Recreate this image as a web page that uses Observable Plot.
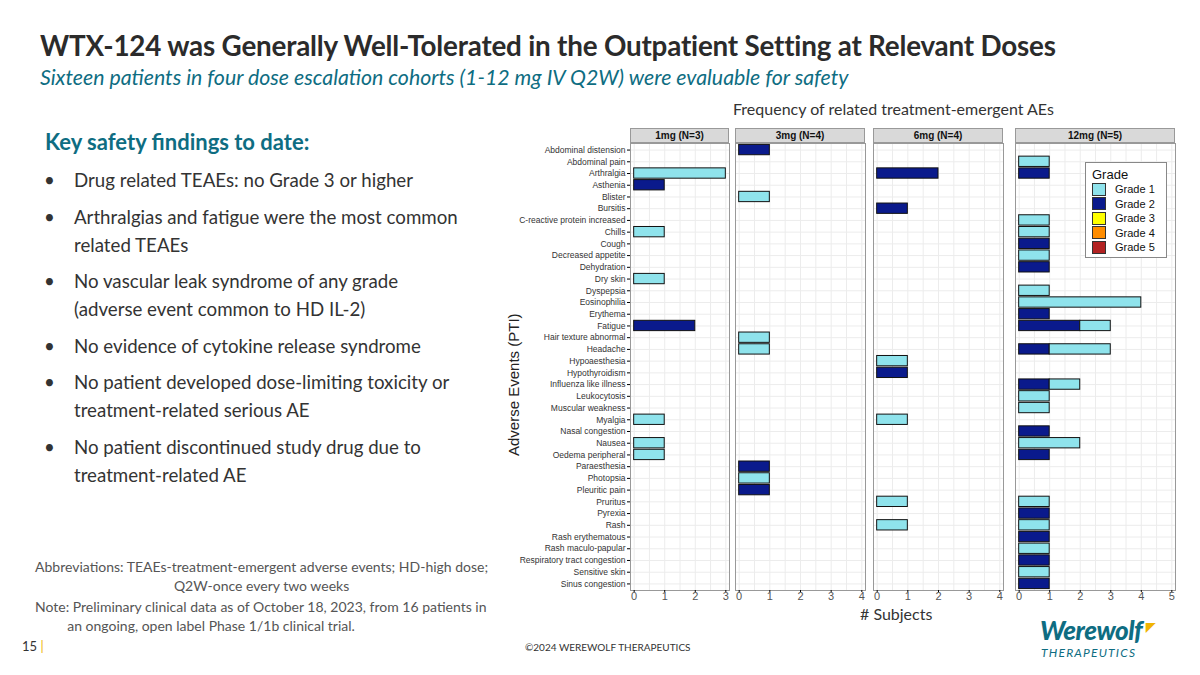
<!DOCTYPE html>
<html><head><meta charset="utf-8">
<script src="https://cdn.jsdelivr.net/npm/d3@7"></script>
<script src="https://cdn.jsdelivr.net/npm/@observablehq/plot@0.6"></script>
<style>
body{margin:0;width:1200px;height:675px;position:relative;background:#fff;font-family:Lato,"Open Sans",sans-serif;overflow:hidden}
.abs{position:absolute;white-space:nowrap}
.hdr{position:absolute;top:128px;height:15px;background:#d9d9d9;border:1px solid #999;box-sizing:border-box;font:bold 10px "Liberation Sans",Arial,sans-serif;text-align:center;line-height:13px;color:#111}
ul{margin:0;padding:0;list-style:none}
li{position:relative;padding-left:34px;font-size:18.7px;color:#333;line-height:28px;margin-bottom:8.5px}
li:before{content:"•";position:absolute;left:4px}
.leg div{display:flex;align-items:center;height:14.5px;font:11px "Liberation Sans",Arial,sans-serif;color:#111}
.leg span{display:inline-block;width:14px;height:13px;border:1px solid #333;margin-right:9px;box-sizing:border-box}
</style></head><body>
<div class="abs" style="left:40px;top:29px;font-size:27.8px;font-weight:bold;color:#2b2b2b;letter-spacing:-0.2px">WTX-124 was Generally Well-Tolerated in the Outpatient Setting at Relevant Doses</div>
<div class="abs" style="left:40px;top:64px;font-size:21.3px;font-style:italic;color:#0e6d82">Sixteen patients in four dose escalation cohorts (1-12 mg IV Q2W) were evaluable for safety</div>
<div class="abs" style="left:733px;top:99px;font-size:16px;color:#333">Frequency of related treatment-emergent AEs</div>
<div class="abs" style="left:45px;top:128px;font-size:22px;font-weight:bold;color:#0e6d82">Key safety findings to date:</div>
<ul class="abs" style="left:40px;top:166px">
<li>Drug related TEAEs: no Grade 3 or higher</li>
<li>Arthralgias and fatigue were the most common<br>related TEAEs</li>
<li>No vascular leak syndrome of any grade<br>(adverse event common to HD IL-2)</li>
<li>No evidence of cytokine release syndrome</li>
<li>No patient developed dose-limiting toxicity or<br>treatment-related serious AE</li>
<li>No patient discontinued study drug due to<br>treatment-related AE</li>
</ul>
<div class="abs" style="left:35px;top:557px;font-size:14px;color:#555;line-height:19px;text-align:center">Abbreviations: TEAEs-treatment-emergent adverse events; HD-high dose;<br>Q2W-once every two weeks</div>
<div class="abs" style="left:35px;top:597px;font-size:14px;color:#555;line-height:19px">Note: Preliminary clinical data as of October 18, 2023, from 16 patients in<br>&nbsp;&nbsp;&nbsp;&nbsp;&nbsp;&nbsp;&nbsp;&nbsp;&nbsp;an ongoing, open label Phase 1/1b clinical trial.</div>
<div class="abs" style="left:22px;top:638px;font-size:13px;color:#333">15 <span style="color:#f0b400">|</span></div>
<div class="abs" style="left:525px;top:641px;font-size:10px;color:#333">©2024 WEREWOLF THERAPEUTICS</div>
<div class="abs" style="left:1040px;top:614px;font-size:26px;font-weight:900;font-style:italic;color:#0e6d82;letter-spacing:-0.5px">Werewolf</div>
<div class="abs" style="left:1146px;top:619px;font-size:12px;font-weight:bold;color:#f0b400">◤</div>
<div class="abs" style="left:1041px;top:645px;font-size:12px;font-style:italic;color:#0e6d82;letter-spacing:1.2px">THERAPEUTICS</div>
<div class="abs" style="left:505px;top:456px;font:15px 'Liberation Sans',Arial,sans-serif;color:#222;transform:rotate(-90deg);transform-origin:0 0">Adverse Events (PTI)</div>
<div class="abs" style="left:860px;top:604px;font-size:16px;color:#333"># Subjects</div>
<div id="chart"></div>
<div class="abs leg" style="left:1085px;top:162px;width:82px;height:96px;border:1px solid #888;background:#fff;box-sizing:border-box;padding:3px 0 0 6px">
<div style="font-size:13px;height:16px">Grade</div>
</div>
<script>
const terms = ["Abdominal distension","Abdominal pain","Arthralgia","Asthenia","Blister","Bursitis","C-reactive protein increased","Chills","Cough","Decreased appetite","Dehydration","Dry skin","Dyspepsia","Eosinophilia","Erythema","Fatigue","Hair texture abnormal","Headache","Hypoaesthesia","Hypothyroidism","Influenza like illness","Leukocytosis","Muscular weakness","Myalgia","Nasal congestion","Nausea","Oedema peripheral","Paraesthesia","Photopsia","Pleuritic pain","Pruritus","Pyrexia","Rash","Rash erythematous","Rash maculo-papular","Respiratory tract congestion","Sensitive skin","Sinus congestion"];
const doses = ["1mg (N=3)","3mg (N=4)","6mg (N=4)","12mg (N=5)"];
const grades = ["Grade 1","Grade 2","Grade 3","Grade 4","Grade 5"];
const gradeColors = ["#8fe3ec","#0a1a8c","#ffff00","#ff8c00","#b22222"];
// [dose index, term, grade number, subjects]
const events = [
  [0,"Arthralgia",1,3],[0,"Asthenia",2,1],[0,"Chills",1,1],[0,"Dry skin",1,1],[0,"Fatigue",2,2],[0,"Myalgia",1,1],[0,"Nausea",1,1],[0,"Oedema peripheral",1,1],
  [1,"Abdominal distension",2,1],[1,"Blister",1,1],[1,"Hair texture abnormal",1,1],[1,"Headache",1,1],[1,"Paraesthesia",2,1],[1,"Photopsia",1,1],[1,"Pleuritic pain",2,1],
  [2,"Arthralgia",2,2],[2,"Bursitis",2,1],[2,"Hypoaesthesia",1,1],[2,"Hypothyroidism",2,1],[2,"Myalgia",1,1],[2,"Pruritus",1,1],[2,"Rash",1,1],
  [3,"Abdominal pain",1,1],[3,"Arthralgia",2,1],[3,"C-reactive protein increased",1,1],[3,"Chills",1,1],[3,"Cough",2,1],[3,"Decreased appetite",1,1],[3,"Dehydration",2,1],[3,"Dyspepsia",1,1],[3,"Eosinophilia",1,4],[3,"Erythema",2,1],[3,"Fatigue",2,2],[3,"Fatigue",1,1],[3,"Headache",2,1],[3,"Headache",1,2],[3,"Influenza like illness",2,1],[3,"Influenza like illness",1,1],[3,"Leukocytosis",1,1],[3,"Muscular weakness",1,1],[3,"Nasal congestion",2,1],[3,"Nausea",1,2],[3,"Oedema peripheral",2,1],[3,"Pruritus",1,1],[3,"Pyrexia",2,1],[3,"Rash",1,1],[3,"Rash erythematous",2,1],[3,"Rash maculo-papular",1,1],[3,"Respiratory tract congestion",2,1],[3,"Sensitive skin",1,1],[3,"Sinus congestion",2,1]
];
const xMax = [3,4,4,5];
const panels = [{left:518,ml:112,w:99},{left:735,ml:0,w:130},{left:873,ml:0,w:130},{left:1015,ml:0,w:160}];

const leg = document.querySelector(".leg");
grades.forEach((g,i)=>{const d=document.createElement("div");d.innerHTML=`<span style="background:${gradeColors[i]}"></span>${g}`;leg.appendChild(d);});

doses.forEach((dose,i)=>{
  const p = panels[i];
  const hdr = document.createElement("div");
  hdr.className="hdr"; hdr.style.left=(p.left+p.ml)+"px"; hdr.style.width=p.w+"px"; hdr.textContent=dose;
  document.body.appendChild(hdr);
  const rows = events.filter(e=>e[0]===i).map(e=>({term:e[1],grade:"Grade "+e[2],n:e[3],ord:e[2]===2?0:1}));
  const half = d3.range(0, xMax[i]+0.01, 0.5);
  const whole = d3.range(0, xMax[i]+1);
  const chart = Plot.plot({
    width:p.ml+p.w, height:467, marginLeft:p.ml, marginRight:0, marginTop:0, marginBottom:20,
    style:{fontFamily:"'Liberation Sans Narrow','Liberation Sans',Arial,sans-serif", overflow:"visible"},
    x:{domain:[-0.12, xMax[i]+0.12], axis:null},
    y:{domain:terms, padding:0.12, round:false, axis:null},
    color:{domain:grades, range:gradeColors},
    marks:[
      Plot.ruleX(half,{stroke:"#ececec"}),
      Plot.ruleY(terms,{y:d=>d,stroke:"#ececec"}),
      Plot.barX(rows, Plot.stackX({x:"n", y:"term", fill:"grade", order:"ord", stroke:"#111", strokeWidth:1})),
      Plot.frame({stroke:"#999"}),
      i===0 ? Plot.axisY({fontSize:8.5, tickSize:3, fill:"#333", tickPadding:2, label:null}) : null,
      Plot.axisX(whole, {fontSize:11, fill:"#555", tickSize:2, tickPadding:0, label:null, fontFamily:"'Liberation Sans',Arial,sans-serif"})
    ]
  });
  chart.style.position="absolute"; chart.style.left=p.left+"px"; chart.style.top="143px";
  document.getElementById("chart").appendChild(chart);
});
</script>
</body></html>
